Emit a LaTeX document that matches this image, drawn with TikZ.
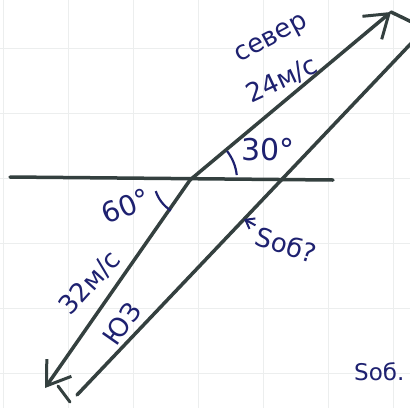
\documentclass[tikz,border=0pt]{standalone}
\usepackage{fontspec}
\setmainfont{DejaVu Sans}
\usetikzlibrary{arrows.meta}
\definecolor{ink}{HTML}{1E2170}
\definecolor{pencil}{HTML}{34403F}
\definecolor{gridc}{HTML}{ECEEEE}
\begin{document}
\begin{tikzpicture}[x=1pt,y=-1pt,
  vec/.style={pencil, line width=3.5pt, line cap=round},
  tipv/.style={-{Straight Barb[length=22pt,width=30pt,line width=3pt]}},
  lbl/.style={ink, font=\fontsize{26}{26}\selectfont, inner sep=0pt},
  big/.style={ink, font=\fontsize{30}{30}\selectfont, inner sep=0pt},
  anglearc/.style={ink, line width=2.2pt}]
\useasboundingbox (0,0) rectangle (410,408);
\fill[white] (0,0) rectangle (410,408);
\begin{scope}
\clip (0,0) rectangle (410,408);
% faint paper grid
\foreach \gx in {3,68,133,198,263,328,393} \draw[gridc, line width=0.8pt] (\gx,0) -- (\gx,408);
\foreach \gy in {48,113,178,243,308,373} \draw[gridc, line width=0.8pt] (0,\gy) -- (410,\gy);
% points
\coordinate (O) at (190,180);
\coordinate (L) at (10,177);
\coordinate (R) at (333,180);
\coordinate (N) at (391,12);
\coordinate (SW) at (45,388);
\coordinate (E1) at (420,26);
\coordinate (E2) at (420,34);
\coordinate (B) at (77,395);
\coordinate (T1) at (58,386);
\coordinate (T2) at (70,402);
% lines
\draw[vec] (L) -- (R);
\draw[vec,tipv] (O) -- (N);
\draw[vec,tipv] (O) -- (SW);
\draw[vec] (N) -- (E1);
\draw[vec] (E2) -- (B);
\draw[vec, line width=3pt] (T1) -- (T2);
% angle arcs
\draw[anglearc] (O) ++(-6:47) arc[start angle=-6, end angle=-38, radius=47];
\draw[anglearc] (O) ++(162:36) arc[start angle=162, end angle=122, radius=36];
% labels
\node[lbl, rotate=28] (sever) at (272,40) {север};
\node[lbl, rotate=25] (v1) at (282,80) {24м/с};
\node[big] (a30) at (268,150) {30°};
\node[ink, font=\fontsize{28}{28}\selectfont, inner sep=0pt, rotate=22] (a60) at (126,206) {60°};
\node[lbl, rotate=48] (v2) at (90,283) {32м/с};
\node[lbl, rotate=55] (yz) at (122,324) {ЮЗ};
\node[lbl, rotate=-18] (q) at (286,245) {Sоб?};
\node[ink, font=\fontsize{23}{23}\selectfont, inner sep=0pt, anchor=west] (s) at (354,372) {Sоб.};
\coordinate (P) at (244,219);
\draw[ink, line width=2pt, -{Straight Barb[length=8pt,width=12pt,line width=2pt]}] (q.north west) ++(-4,0) -- (P);
\end{scope}
\end{tikzpicture}
\end{document}
